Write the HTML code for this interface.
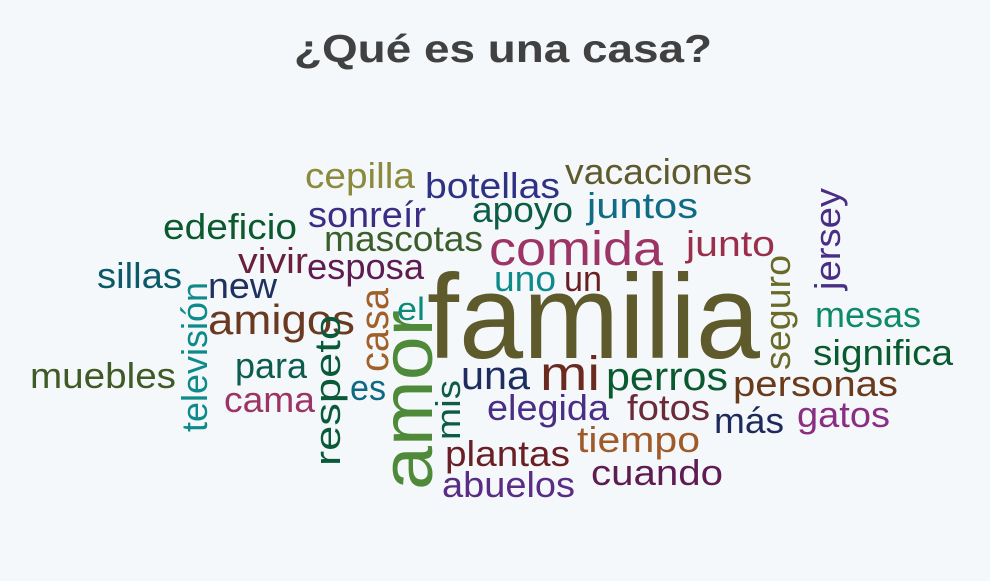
<!DOCTYPE html>
<html><head><meta charset="utf-8"><style>
html,body{margin:0;padding:0;background:#f5f8fb;}
svg{display:block;font-family:"Liberation Sans",sans-serif;}
</style></head><body>
<svg id="chart" width="990" height="581" viewBox="0 0 990 581">
<rect width="990" height="581" fill="#f5f8fb"/>
<text x="503" y="62" text-anchor="middle" font-size="39" font-weight="bold" fill="#414141" textLength="418" lengthAdjust="spacingAndGlyphs">¿Qué es una casa?</text>
<g id="words"></g>
</svg>
<script>
const words=["cepilla","botellas","vacaciones","edeficio","sonreír","apoyo","juntos","mascotas","comida","junto","vivir","esposa","sillas","new","uno","un","familia","amigos","amor","el","mesas","significa","para","muebles","una","mi","perros","personas","cama","es","elegida","fotos","más","gatos","tiempo","plantas","cuando","abuelos","televisión","respeto","casa","mis","seguro","jersey"];
const weights=[36,36,36,36,36,36,36,36,48,36,36,36,36,36,36,36,120,42,72,32,36,36,36,36,40,48,40,36,36,36,36,36,36,36,36,36,36,36,36,36,40,34,36,36];
const colors=["#8c8a3c","#2e3184","#5f5a2e","#0b5a2e","#3b2d84","#0d5c45","#0f6c84","#3b5e2b","#9c3466","#9a2f4c","#6a1f3a","#5e1c52","#0b5a6a","#1e3160","#0e8a8a","#6a1f25","#5e5a2b","#6a3a20","#4e8a3a","#0e8a7a","#0e8a6a","#0a5a30","#0d5c50","#3f5a25","#1e2d60","#6a2a20","#0a5a30","#6a3a1a","#9c3466","#0e6a84","#4a2d84","#6a2a3a","#1e2a5c","#8a2e84","#a05a2a","#6a1f25","#5e1c52","#5a2d84","#0e8a8a","#0a5a3a","#a0602a","#0d5c45","#6a6a2a","#4a2d84"];
// layout (not data): anchor x, baseline y, text length, rotation
const layX=[305,425,565,163,308,472,587,324,489,686,238,307,97,208,494,564,427,208,432,397,815,813,235,30,461,540,606,733,224,350,487,627,714,797,577,445,591,442,207,340,388,460,790,840];
const layY=[188,198,184,239,227,222,218,251,265,256,273,279,288,298,291,291,358,334,490,320,327,365,378,388,389,390,390,396,412,400,420,420,433,427,452,466,485,497,432,466,372,440,370,290];
const layW=[110,135,187,134,118,101,111,159,174,89,70,117,85,69,62,38,333,147,180,28,106,140,72,146,69,60,122,165,91,36,122,83,70,93,123,125,132,133,150,151,84,60,115,102];
const layR=[0,0,0,0,0,0,0,0,0,0,0,0,0,0,0,0,0,0,-90,0,0,0,0,0,0,0,0,0,0,0,0,0,0,0,0,0,0,0,-90,-90,-90,-90,-90,-90];
const g=document.getElementById('words');
const NS="http://www.w3.org/2000/svg";
for(let i=0;i<words.length;i++){
  const t=document.createElementNS(NS,'text');
  
  
  t.setAttribute('x',layX[i]);
  t.setAttribute('y',layY[i]);
  t.setAttribute('font-size',weights[i]);
  t.setAttribute('fill',colors[i]);
  t.setAttribute('textLength',layW[i]);
  t.setAttribute('lengthAdjust','spacingAndGlyphs');
  if(layR[i]) t.setAttribute('transform','rotate('+layR[i]+' '+layX[i]+' '+layY[i]+')');
  t.textContent=words[i];
  g.appendChild(t);
}
</script>
</body></html>
